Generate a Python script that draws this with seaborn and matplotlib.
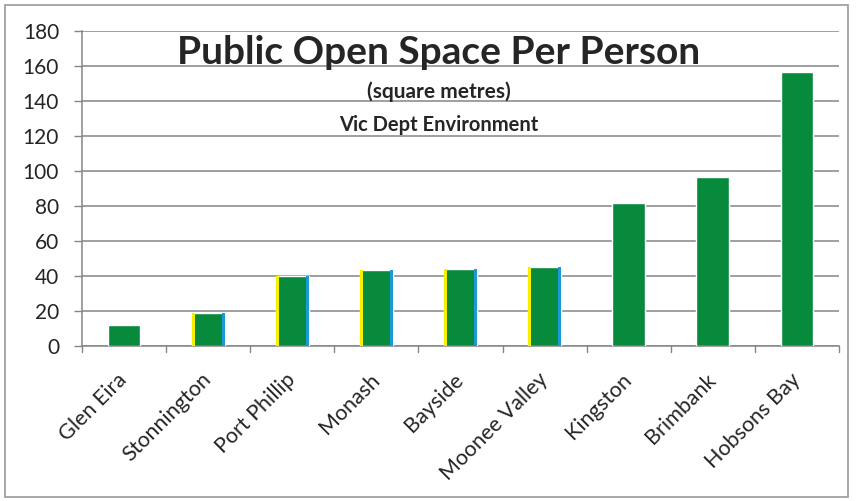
import matplotlib
matplotlib.use("Agg")
import matplotlib.pyplot as plt
from matplotlib.patches import Rectangle
import seaborn as sns
import pandas as pd

# Public open space per person by municipality (square metres)
councils = ["Glen Eira", "Stonnington", "Port Phillip", "Monash", "Bayside",
            "Moonee Valley", "Kingston", "Brimbank", "Hobsons Bay"]
space_per_person = [12, 19, 40, 43.5, 44, 45, 81.5, 96.5, 156.5]
# councils whose bars carry the yellow / blue side stripes
striped = [False, True, True, True, True, True, False, False, False]

y_ticks = [0, 20, 40, 60, 80, 100, 120, 140, 160, 180]

GREEN = "#078a3c"
YELLOW = "#f5f000"
BLUE = "#1a9ad6"
GRID = "#858585"
TEXT = "#252525"

sns.set_theme(style="white")
plt.rcParams["font.family"] = ["Lato", "DejaVu Sans"]

df = pd.DataFrame({"council": councils, "space": space_per_person})

fig = plt.figure(figsize=(8.56, 5.01), dpi=100)
ax = fig.add_axes([82 / 856, 1 - 346 / 501, (839 - 82) / 856, (346 - 31) / 501])

bar_w = 0.39
sns.barplot(data=df, x="council", y="space", color=GREEN, width=bar_w,
            saturation=1, ax=ax, zorder=3)

# thin coloured stripes along the sides of selected bars
stripe_w = 0.035
for i, (v, s) in enumerate(zip(space_per_person, striped)):
    if s:
        ax.bar(i - bar_w / 2, v, width=stripe_w, align="edge",
               color=YELLOW, zorder=4, linewidth=0)
        ax.bar(i + bar_w / 2 - stripe_w, v, width=stripe_w, align="edge",
               color=BLUE, zorder=4, linewidth=0)

ax.set_xlim(-0.5, len(councils) - 0.5)
ax.set_ylim(0, 180)
ax.set_yticks(y_ticks)
ax.set_yticklabels([str(t) for t in y_ticks], fontsize=15, color=TEXT)
ax.yaxis.grid(True, color=GRID, linewidth=1.1, zorder=0)
ax.set_axisbelow(True)

ax.set_xlabel("")
ax.set_ylabel("")
ax.set_xticks(range(len(councils)))
ax.set_xticklabels(councils, rotation=45, ha="right", va="center",
                   rotation_mode="anchor", fontsize=15.5, color=TEXT)
ax.tick_params(axis="x", length=0, pad=22)
# category boundary tick marks below the axis
for b in [i - 0.5 for i in range(len(councils) + 1)]:
    ax.plot([b, b], [0, -3.5], color=GRID, lw=1, clip_on=False, zorder=5)
ax.tick_params(axis="y", length=6, width=1, color=GRID, left=True, pad=10.5)

for side in ["top", "right"]:
    ax.spines[side].set_visible(False)
for side in ["left", "bottom"]:
    ax.spines[side].set_color(GRID)
    ax.spines[side].set_linewidth(1.1)

# titles: x in axes fraction, y on the value scale just above gridlines
cx = 0.471
title_tf = ax.get_yaxis_transform()
ax.text(cx, 161, "Public Open Space Per Person", transform=title_tf,
        ha="center", va="baseline", fontsize=28, fontweight="bold", color=TEXT)
ax.text(cx, 141.5, "(square metres)", transform=title_tf,
        ha="center", va="baseline", fontsize=15, fontweight="bold", color=TEXT)
ax.text(cx, 123, "Vic Dept Environment", transform=title_tf,
        ha="center", va="baseline", fontsize=14.5, fontweight="bold", color=TEXT)

# outer chart frame
fig.patches.append(Rectangle((5 / 856, 1 - 497 / 501), 843 / 856, 492 / 501,
                             transform=fig.transFigure, fill=False,
                             edgecolor="#9a9a9a", linewidth=1.2))

fig.savefig("out.png", dpi=100, facecolor="white")
